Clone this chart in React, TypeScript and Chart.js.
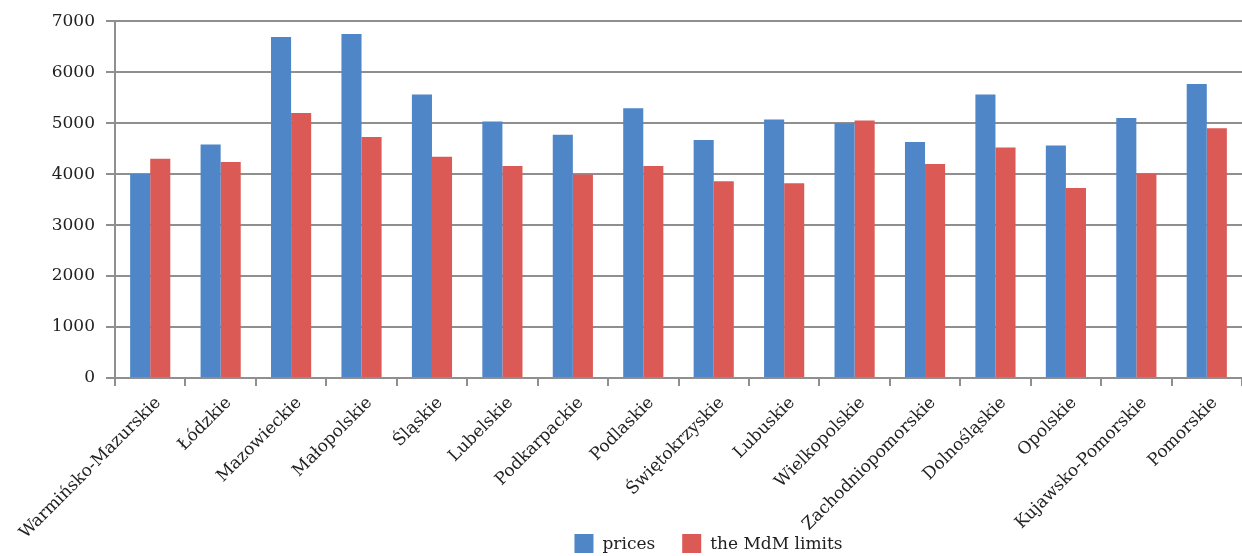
import React, { useEffect, useRef } from "react";
import { Chart, registerables } from "chart.js";

Chart.register(...registerables);

const regions = [
  "Warmińsko-Mazurskie",
  "Łódzkie",
  "Mazowieckie",
  "Małopolskie",
  "Śląskie",
  "Lubelskie",
  "Podkarpackie",
  "Podlaskie",
  "Świętokrzyskie",
  "Lubuskie",
  "Wielkopolskie",
  "Zachodniopomorskie",
  "Dolnośląskie",
  "Opolskie",
  "Kujawsko-Pomorskie",
  "Pomorskie",
];

const prices = [4000, 4580, 6690, 6750, 5560, 5030, 4770, 5290, 4670, 5070, 5000, 4630, 5560, 4560, 5100, 5770];
const mdmLimits = [4300, 4240, 5200, 4730, 4340, 4160, 3990, 4160, 3860, 3820, 5050, 4200, 4520, 3730, 4010, 4900];

const seriesNames = ["prices", "the MdM limits"];
const seriesColors = ["#4F86C8", "#DC5A56"];

const yMax = 7000;
const yStep = 1000;

const FONT = "'DejaVu Serif', serif";
const GRID = "#8f8f8f";

// Legend drawn below the plot, centred under the bars
const bottomLegend = {
  id: "bottomLegend",
  afterDraw(chart: any) {
    const { ctx, chartArea } = chart;
    const box = 19;
    const gapText = 9;
    const gapItems = 27;
    const y = 534;
    ctx.save();
    ctx.font = `17px ${FONT}`;
    const items = chart.data.datasets.map((ds: any) => ({
      label: ds.label,
      color: ds.backgroundColor,
      w: box + gapText + ctx.measureText(ds.label).width,
    }));
    const total = items.reduce((s: number, it: any) => s + it.w, 0) + gapItems * (items.length - 1);
    const centerX = (chartArea.left + chartArea.right) / 2 + 30;
    let x = centerX - total / 2;
    ctx.textBaseline = "middle";
    ctx.textAlign = "left";
    for (const it of items) {
      ctx.fillStyle = it.color;
      ctx.fillRect(x, y, box, box);
      ctx.fillStyle = "#222";
      ctx.fillText(it.label, x + box + gapText, y + box / 2 + 1);
      x += it.w + gapItems;
    }
    ctx.restore();
  },
};

export default function App() {
  const canvasRef = useRef<HTMLCanvasElement | null>(null);

  useEffect(() => {
    if (!canvasRef.current) return;
    const chart = new Chart(canvasRef.current, {
      type: "bar",
      data: {
        labels: regions,
        datasets: [
          {
            label: seriesNames[0],
            data: prices,
            backgroundColor: seriesColors[0],
            categoryPercentage: 0.57,
            barPercentage: 1.0,
          },
          {
            label: seriesNames[1],
            data: mdmLimits,
            backgroundColor: seriesColors[1],
            categoryPercentage: 0.57,
            barPercentage: 1.0,
          },
        ],
      },
      options: {
        responsive: false,
        animation: false,
        layout: { padding: { top: 15, right: 0, bottom: 0, left: 0 } },
        plugins: {
          legend: { display: false },
          tooltip: { enabled: false },
        },
        scales: {
          x: {
            grid: {
              display: true,
              drawOnChartArea: false,
              drawTicks: true,
              tickLength: 8,
              color: GRID,
              lineWidth: 2,
            },
            border: { display: true, color: GRID, width: 2 },
            ticks: {
              minRotation: 45,
              maxRotation: 45,
              autoSkip: false,
              padding: 7,
              labelOffset: 8,
              color: "#222",
              font: { family: FONT, size: 17 },
            },
            afterFit(scale: any) {
              scale.height = 178;
            },
          },
          y: {
            min: 0,
            max: yMax,
            ticks: {
              stepSize: yStep,
              padding: 11,
              color: "#222",
              font: { family: FONT, size: 17 },
              callback: (v: any) => String(v),
            },
            grid: {
              color: GRID,
              lineWidth: 2,
              tickLength: 9,
              drawTicks: true,
            },
            border: { display: true, color: GRID, width: 2 },
            afterFit(scale: any) {
              scale.width = 115;
            },
          },
        },
      },
      plugins: [bottomLegend],
    });
    return () => chart.destroy();
  }, []);

  return (
    <div style={{ position: "absolute", left: 0, top: 0, width: 1242, height: 556, background: "#fff" }}>
      <canvas ref={canvasRef} width={1242} height={556} />
    </div>
  );
}
